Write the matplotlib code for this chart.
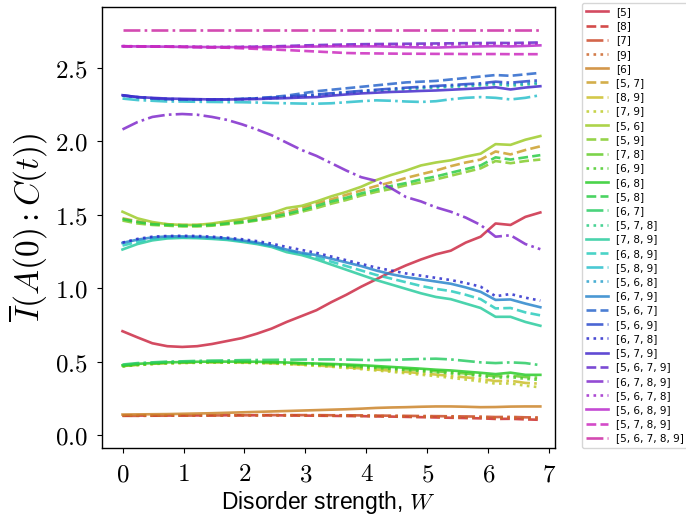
import colorsys
import numpy as np
import matplotlib
matplotlib.use("Agg")
from matplotlib import pyplot as plt
from matplotlib.ticker import FuncFormatter

plt.rcParams['mathtext.fontset'] = 'cm'
plt.rcParams['axes.linewidth'] = 1.0

# disorder strengths
W = [0.0, 0.245, 0.489, 0.734, 0.979, 1.223, 1.468, 1.713, 1.957, 2.202,
     2.446, 2.691, 2.936, 3.18, 3.425, 3.67, 3.914, 4.159, 4.404, 4.648,
     4.893, 5.138, 5.382, 5.627, 5.871, 6.116, 6.361, 6.605, 6.85]

labels = ['[5]', '[8]', '[7]', '[9]', '[6]',
          '[5, 7]', '[8, 9]', '[7, 9]', '[5, 6]', '[5, 9]', '[7, 8]', '[6, 9]',
          '[6, 8]', '[5, 8]', '[6, 7]',
          '[5, 7, 8]', '[7, 8, 9]', '[6, 8, 9]', '[5, 8, 9]', '[5, 6, 8]',
          '[6, 7, 9]', '[5, 6, 7]', '[5, 6, 9]', '[6, 7, 8]', '[5, 7, 9]',
          '[5, 6, 7, 9]', '[6, 7, 8, 9]', '[5, 6, 7, 8]', '[5, 6, 8, 9]',
          '[5, 7, 8, 9]', '[5, 6, 7, 8, 9]']

# single sites
I_5 = [0.707, 0.665, 0.625, 0.605, 0.60, 0.605, 0.62, 0.64, 0.66, 0.69,
       0.725, 0.77, 0.81, 0.85, 0.905, 0.955, 1.01, 1.06, 1.11, 1.155,
       1.195, 1.23, 1.255, 1.31, 1.35, 1.44, 1.43, 1.485, 1.515]
I_8 = [0.133, 0.133, 0.133, 0.133, 0.134, 0.134, 0.134, 0.135, 0.135, 0.135,
       0.135, 0.134, 0.133, 0.132, 0.131, 0.13, 0.129, 0.127, 0.126, 0.124,
       0.122, 0.12, 0.118, 0.116, 0.114, 0.11, 0.111, 0.107, 0.104]
I_7 = [0.131, 0.131, 0.132, 0.132, 0.133, 0.133, 0.134, 0.134, 0.135, 0.135,
       0.136, 0.136, 0.136, 0.136, 0.135, 0.135, 0.134, 0.133, 0.132, 0.131,
       0.13, 0.129, 0.128, 0.127, 0.126, 0.123, 0.124, 0.121, 0.12]
I_9 = [0.132, 0.132, 0.132, 0.133, 0.133, 0.134, 0.134, 0.134, 0.135, 0.135,
       0.135, 0.135, 0.135, 0.134, 0.133, 0.132, 0.131, 0.13, 0.129, 0.128,
       0.127, 0.125, 0.124, 0.122, 0.121, 0.118, 0.119, 0.116, 0.115]
I_6 = [0.14, 0.141, 0.142, 0.143, 0.145, 0.147, 0.149, 0.152, 0.155, 0.158,
       0.161, 0.164, 0.167, 0.17, 0.173, 0.176, 0.18, 0.185, 0.188, 0.19,
       0.193, 0.195, 0.195, 0.193, 0.19, 0.191, 0.194, 0.195, 0.195]

# pairs
I_57 = [1.475, 1.455, 1.44, 1.435, 1.43, 1.43, 1.435, 1.445, 1.46, 1.475,
        1.495, 1.52, 1.545, 1.575, 1.605, 1.635, 1.665, 1.695, 1.72, 1.75,
        1.775, 1.80, 1.83, 1.855, 1.875, 1.93, 1.91, 1.94, 1.965]
I_89 = [0.47, 0.478, 0.485, 0.49, 0.492, 0.494, 0.495, 0.495, 0.494, 0.492,
        0.489, 0.485, 0.48, 0.474, 0.468, 0.461, 0.454, 0.446, 0.438, 0.43,
        0.421, 0.412, 0.403, 0.393, 0.383, 0.368, 0.37, 0.355, 0.35]
I_79 = [0.468, 0.476, 0.483, 0.488, 0.49, 0.492, 0.493, 0.493, 0.492, 0.49,
        0.487, 0.483, 0.478, 0.472, 0.465, 0.457, 0.449, 0.44, 0.431, 0.421,
        0.411, 0.401, 0.39, 0.378, 0.366, 0.35, 0.352, 0.336, 0.325]
I_56 = [1.52, 1.475, 1.45, 1.435, 1.43, 1.43, 1.44, 1.455, 1.47, 1.49,
        1.51, 1.545, 1.56, 1.59, 1.625, 1.655, 1.69, 1.735, 1.77, 1.80,
        1.835, 1.855, 1.87, 1.895, 1.915, 1.98, 1.975, 2.01, 2.035]
I_59 = [1.46, 1.44, 1.43, 1.425, 1.42, 1.42, 1.425, 1.435, 1.445, 1.46,
        1.475, 1.495, 1.52, 1.545, 1.575, 1.60, 1.63, 1.655, 1.675, 1.70,
        1.72, 1.74, 1.765, 1.79, 1.815, 1.865, 1.85, 1.865, 1.875]
I_78 = [0.47, 0.48, 0.487, 0.492, 0.495, 0.497, 0.498, 0.498, 0.498, 0.497,
        0.495, 0.492, 0.488, 0.484, 0.479, 0.474, 0.468, 0.462, 0.455, 0.448,
        0.441, 0.434, 0.427, 0.419, 0.41, 0.40, 0.405, 0.395, 0.39]
I_69 = [0.468, 0.478, 0.485, 0.49, 0.493, 0.495, 0.496, 0.496, 0.495, 0.494,
        0.492, 0.489, 0.485, 0.48, 0.475, 0.469, 0.463, 0.457, 0.45, 0.443,
        0.435, 0.428, 0.42, 0.412, 0.403, 0.39, 0.395, 0.383, 0.375]
I_68 = [0.475, 0.485, 0.49, 0.495, 0.497, 0.499, 0.50, 0.50, 0.50, 0.499,
        0.497, 0.494, 0.49, 0.487, 0.484, 0.48, 0.476, 0.47, 0.464, 0.458,
        0.452, 0.445, 0.44, 0.432, 0.424, 0.415, 0.425, 0.41, 0.41]
I_58 = [1.47, 1.45, 1.435, 1.43, 1.425, 1.425, 1.43, 1.44, 1.45, 1.465,
        1.485, 1.505, 1.53, 1.56, 1.59, 1.615, 1.645, 1.67, 1.695, 1.715,
        1.74, 1.76, 1.785, 1.81, 1.835, 1.89, 1.875, 1.89, 1.905]
I_67 = [0.48, 0.49, 0.495, 0.50, 0.502, 0.505, 0.507, 0.508, 0.51, 0.511,
        0.512, 0.513, 0.514, 0.515, 0.515, 0.514, 0.512, 0.51, 0.512, 0.515,
        0.518, 0.52, 0.515, 0.505, 0.495, 0.49, 0.495, 0.49, 0.476]

# triples
I_578 = [2.31, 2.298, 2.29, 2.285, 2.283, 2.282, 2.282, 2.283, 2.285, 2.288,
         2.292, 2.297, 2.303, 2.31, 2.318, 2.326, 2.334, 2.342, 2.348, 2.354,
         2.36, 2.365, 2.37, 2.375, 2.38, 2.387, 2.378, 2.385, 2.392]
I_789 = [1.263, 1.30, 1.325, 1.338, 1.342, 1.34, 1.335, 1.328, 1.315, 1.30,
         1.28, 1.245, 1.225, 1.195, 1.16, 1.125, 1.09, 1.055, 1.025, 0.995,
         0.965, 0.94, 0.925, 0.895, 0.865, 0.805, 0.805, 0.77, 0.744]
I_689 = [1.29, 1.315, 1.335, 1.345, 1.347, 1.345, 1.34, 1.333, 1.32, 1.305,
         1.285, 1.255, 1.235, 1.21, 1.18, 1.15, 1.12, 1.09, 1.065, 1.04,
         1.015, 0.995, 0.98, 0.955, 0.925, 0.862, 0.865, 0.835, 0.815]
I_589 = [2.29, 2.28, 2.275, 2.27, 2.27, 2.268, 2.267, 2.266, 2.265, 2.263,
         2.26, 2.258, 2.256, 2.255, 2.258, 2.265, 2.272, 2.278, 2.275, 2.27,
         2.267, 2.272, 2.285, 2.295, 2.30, 2.295, 2.284, 2.295, 2.313]
I_568 = [2.31, 2.299, 2.292, 2.287, 2.285, 2.284, 2.284, 2.285, 2.287, 2.29,
         2.295, 2.301, 2.308, 2.316, 2.324, 2.332, 2.34, 2.347, 2.353, 2.359,
         2.365, 2.37, 2.375, 2.381, 2.386, 2.394, 2.386, 2.393, 2.40]
I_679 = [1.308, 1.33, 1.345, 1.352, 1.352, 1.35, 1.345, 1.338, 1.325, 1.31,
         1.29, 1.262, 1.24, 1.225, 1.20, 1.175, 1.15, 1.12, 1.095, 1.075,
         1.06, 1.045, 1.03, 1.005, 0.975, 0.92, 0.923, 0.895, 0.87]
I_567 = [2.31, 2.30, 2.29, 2.285, 2.283, 2.282, 2.282, 2.284, 2.287, 2.292,
         2.30, 2.31, 2.325, 2.34, 2.35, 2.36, 2.37, 2.38, 2.39, 2.40,
         2.405, 2.41, 2.42, 2.43, 2.44, 2.45, 2.445, 2.455, 2.465]
I_569 = [2.312, 2.30, 2.292, 2.287, 2.285, 2.284, 2.284, 2.285, 2.288, 2.292,
         2.297, 2.303, 2.31, 2.318, 2.326, 2.334, 2.342, 2.35, 2.357, 2.364,
         2.37, 2.376, 2.382, 2.388, 2.394, 2.405, 2.398, 2.407, 2.415]
I_678 = [1.31, 1.335, 1.35, 1.355, 1.356, 1.355, 1.35, 1.343, 1.333, 1.32,
         1.303, 1.28, 1.26, 1.24, 1.215, 1.19, 1.165, 1.14, 1.12, 1.10,
         1.085, 1.07, 1.055, 1.035, 1.01, 0.945, 0.96, 0.935, 0.915]
I_579 = [2.313, 2.30, 2.295, 2.29, 2.288, 2.286, 2.284, 2.284, 2.285, 2.287,
         2.29, 2.293, 2.297, 2.30, 2.31, 2.318, 2.325, 2.33, 2.335, 2.338,
         2.342, 2.345, 2.35, 2.355, 2.36, 2.367, 2.352, 2.365, 2.374]

# quadruples and all five
I_5679 = [2.646, 2.645, 2.644, 2.643, 2.642, 2.641, 2.64, 2.64, 2.641, 2.643,
          2.645, 2.648, 2.651, 2.654, 2.656, 2.658, 2.66, 2.661, 2.662, 2.663,
          2.664, 2.665, 2.666, 2.667, 2.668, 2.669, 2.668, 2.67, 2.672]
I_6789 = [2.08, 2.13, 2.165, 2.18, 2.185, 2.18, 2.165, 2.145, 2.115, 2.08,
          2.04, 1.99, 1.94, 1.90, 1.85, 1.80, 1.755, 1.73, 1.68, 1.62,
          1.59, 1.55, 1.52, 1.48, 1.43, 1.35, 1.36, 1.30, 1.265]
I_5678 = [2.647, 2.646, 2.645, 2.644, 2.643, 2.642, 2.641, 2.641, 2.641, 2.642,
          2.643, 2.645, 2.647, 2.649, 2.651, 2.653, 2.655, 2.656, 2.656, 2.655,
          2.655, 2.656, 2.658, 2.659, 2.66, 2.662, 2.661, 2.663, 2.665]
I_5689 = [2.646, 2.645, 2.644, 2.643, 2.642, 2.641, 2.64, 2.64, 2.64, 2.64,
          2.641, 2.642, 2.643, 2.644, 2.645, 2.645, 2.645, 2.645, 2.643, 2.64,
          2.638, 2.637, 2.64, 2.643, 2.645, 2.647, 2.645, 2.648, 2.652]
I_5789 = [2.646, 2.645, 2.644, 2.643, 2.642, 2.64, 2.638, 2.636, 2.632, 2.628,
          2.624, 2.62, 2.615, 2.61, 2.605, 2.60, 2.598, 2.597, 2.596, 2.595,
          2.595, 2.594, 2.594, 2.593, 2.593, 2.593, 2.592, 2.592, 2.592]
I_56789 = [2.755, 2.755, 2.755, 2.755, 2.755, 2.755, 2.755, 2.755, 2.755, 2.755,
           2.755, 2.755, 2.755, 2.755, 2.755, 2.755, 2.755, 2.755, 2.755, 2.755,
           2.755, 2.755, 2.755, 2.755, 2.755, 2.755, 2.755, 2.755, 2.755]

series = [I_5, I_8, I_7, I_9, I_6,
          I_57, I_89, I_79, I_56, I_59, I_78, I_69, I_68, I_58, I_67,
          I_578, I_789, I_689, I_589, I_568, I_679, I_567, I_569, I_678, I_579,
          I_5679, I_6789, I_5678, I_5689, I_5789, I_56789]

styles = ['-', '--', '-.', ':']


def muted(c, sat=0.65, light=0.97):
    # tone the rainbow down a bit, the printed colours are softer
    h, l, s = colorsys.rgb_to_hls(*c[:3])
    return colorsys.hls_to_rgb(h, l * light, s * sat)


colors = [muted(c) for c in plt.cm.gist_rainbow(np.linspace(0, 1, len(series)))]

fig = plt.figure(figsize=(6.86, 5.28), dpi=100)
ax = fig.add_axes([0.1487, 0.152, 0.6603, 0.835])

for i, (y, lab) in enumerate(zip(series, labels)):
    ax.plot(W, y, ls=styles[i % 4], color=colors[i], lw=1.9, alpha=0.85, label=lab)

ax.set_xlim(-0.336, 7.09)
ax.set_ylim(-0.086, 2.914)
ax.set_xticks(range(8))
ax.set_yticks([0.0, 0.5, 1.0, 1.5, 2.0, 2.5])
ax.xaxis.set_major_formatter(FuncFormatter(lambda v, p: r'$%d$' % v))
ax.yaxis.set_major_formatter(FuncFormatter(lambda v, p: r'$%.1f$' % v))
ax.tick_params(labelsize=18, pad=7)

ax.set_xlabel(r'Disorder strength, $W$', fontsize=16.5, family='Liberation Sans', labelpad=2)
ax.set_ylabel(r'$\overline{I}(A(0):C(t))$', fontsize=24, labelpad=3)

ax.legend(loc='upper left', bbox_to_anchor=(1.048, 1.021), fontsize=7.5,
          labelspacing=0.405, handlelength=2.1, handletextpad=0.8)

fig.savefig('out.png', dpi=100)
